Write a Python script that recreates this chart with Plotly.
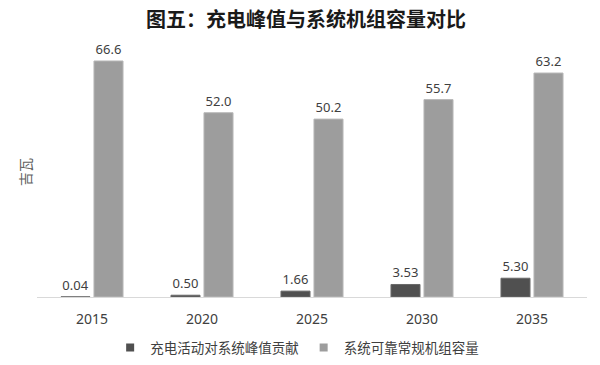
import plotly.graph_objects as go

years = ["2015", "2020", "2025", "2030", "2035"]
charging_peak = [0.04, 0.50, 1.66, 3.53, 5.30]
reliable_capacity = [66.6, 52.0, 50.2, 55.7, 63.2]
series_names = ["充电活动对系统峰值贡献", "系统可靠常规机组容量"]
series_colors = ["#505050", "#9d9d9d"]

font_cjk = "Noto Sans CJK SC, Noto Sans, sans-serif"

fig = go.Figure()
fig.add_trace(go.Bar(
    x=years, y=charging_peak, name=series_names[0], showlegend=False,
    marker=dict(color=series_colors[0], line=dict(color="#6a6a6a", width=1)),
    texttemplate="%{y:.2f}", textposition="outside",
    textfont=dict(size=13, color="#404040", family="Noto Sans"),
    cliponaxis=False,
))
fig.add_trace(go.Bar(
    x=years, y=reliable_capacity, name=series_names[1], showlegend=False,
    marker=dict(color=series_colors[1], line=dict(color="#b8b8b8", width=1)),
    texttemplate="%{y:.1f}", textposition="outside",
    textfont=dict(size=13, color="#404040", family="Noto Sans"),
    cliponaxis=False,
))
# legend entries with small square keys
for name, color in zip(series_names, series_colors):
    fig.add_trace(go.Scatter(
        x=[None], y=[None], mode="markers", name=name,
        marker=dict(symbol="square", size=8, color=color),
    ))

fig.update_layout(
    width=600, height=365,
    paper_bgcolor="white", plot_bgcolor="white",
    margin=dict(l=37, r=13, t=50, b=68, autoexpand=False),
    barmode="group", bargap=0.4, bargroupgap=0.12,
    title=dict(text="<b>图五：充电峰值与系统机组容量对比</b>",
               x=0.51, xanchor="center", y=0.945, yanchor="middle",
               font=dict(family=font_cjk, size=20, color="#1a1a1a")),
    xaxis=dict(showline=True, linecolor="#d9d9d9", linewidth=1,
               ticks="", ticklabelstandoff=9, automargin=False,
               tickfont=dict(size=14, color="#404040", family="Noto Sans"),
               showgrid=False),
    yaxis=dict(range=[0, 69.7], showticklabels=False, showgrid=False,
               zeroline=False, showline=False, ticks="", automargin=False),
    legend=dict(orientation="h", x=0.473, xanchor="center",
                yref="container", y=0.047, yanchor="middle",
                font=dict(family=font_cjk, size=13.5, color="#404040"),
                itemwidth=30, tracegroupgap=0),
    showlegend=True,
    annotations=[dict(text="吉瓦", xref="paper", yref="paper",
                      x=-0.022, y=0.506, xanchor="center", yanchor="middle",
                      textangle=-90, showarrow=False,
                      font=dict(family=font_cjk, size=14, color="#606060"))],
)

fig.write_html("out.html", config={"displayModeBar": False},
               post_script="document.body.style.margin='0px';document.body.style.padding='0px';")
